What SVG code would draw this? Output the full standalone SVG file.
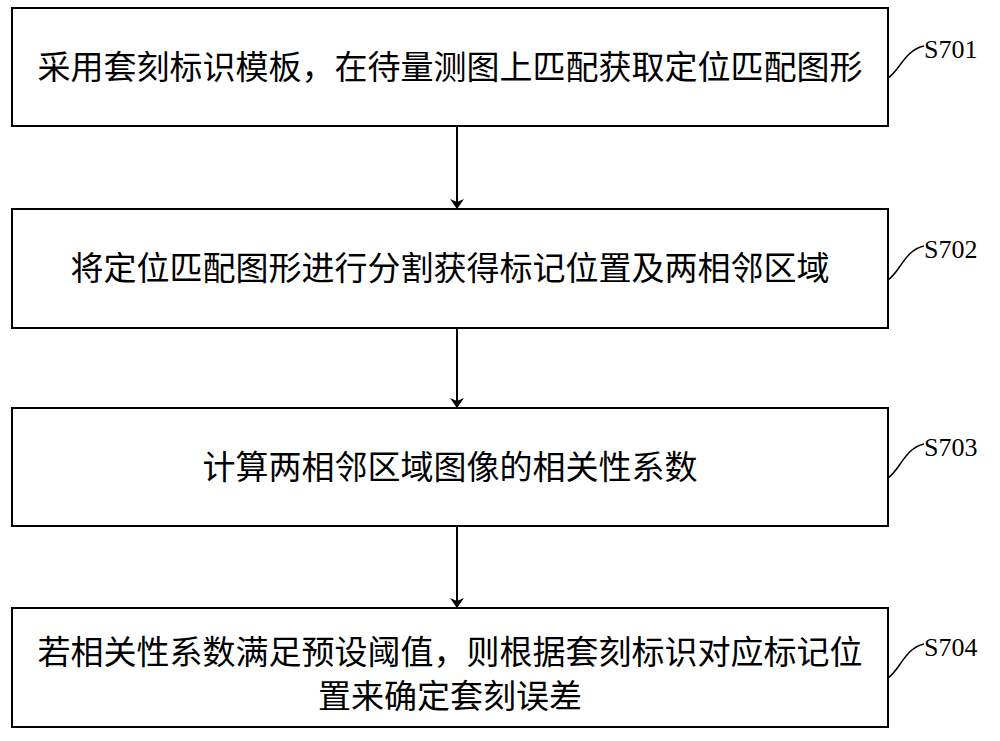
<svg xmlns="http://www.w3.org/2000/svg" width="1000" height="741" viewBox="0 0 1000 741">
<defs><marker id="ah" markerWidth="10" markerHeight="14" refX="9" refY="7" orient="auto" markerUnits="userSpaceOnUse"><path d="M0,0 L10,7 L0,14 L3,7 Z" fill="#000"/></marker></defs>
<style>
.b{fill:#fff;stroke:#000;stroke-width:2}
.t{font-family:"Noto Sans CJK SC",sans-serif;font-size:33px;fill:#000;text-anchor:middle}
.l{font-family:"Liberation Serif",serif;font-size:26px;fill:#000}
.c{fill:none;stroke:#000;stroke-width:1.5}
</style>
<rect width="1000" height="741" fill="#fff"/>
<g id="n1"><rect class="b" x="12" y="8" width="876" height="118"/><text class="t" x="450" y="79">采用套刻标识模板，在待量测图上匹配获取定位匹配图形</text><path class="c" d="M888,78 C900,70 905,50 924,46"/><text class="l" x="924" y="58">S701</text></g>
<g id="n2"><rect class="b" x="12" y="209" width="876" height="119"/><text class="t" x="450" y="280">将定位匹配图形进行分割获得标记位置及两相邻区域</text><path class="c" d="M888,280 C900,272 905,250 924,246"/><text class="l" x="924" y="258">S702</text></g>
<g id="n3"><rect class="b" x="12" y="408" width="876" height="118"/><text class="t" x="450" y="479">计算两相邻区域图像的相关性系数</text><path class="c" d="M888,478 C900,470 905,448 924,444"/><text class="l" x="924" y="456">S703</text></g>
<g id="n4"><rect class="b" x="12" y="608" width="876" height="119"/><text class="t" x="450" y="664">若相关性系数满足预设阈值，则根据套刻标识对应标记位</text><text class="t" x="450" y="708">置来确定套刻误差</text><path class="c" d="M888,678 C900,670 905,648 924,644"/><text class="l" x="924" y="656">S704</text></g>
<g id="edges" stroke="#000" stroke-width="2">
<line x1="457" y1="126" x2="457" y2="208" marker-end="url(#ah)"/>
<line x1="457" y1="328" x2="457" y2="407" marker-end="url(#ah)"/>
<line x1="457" y1="526" x2="457" y2="607" marker-end="url(#ah)"/>
</g>
</svg>
